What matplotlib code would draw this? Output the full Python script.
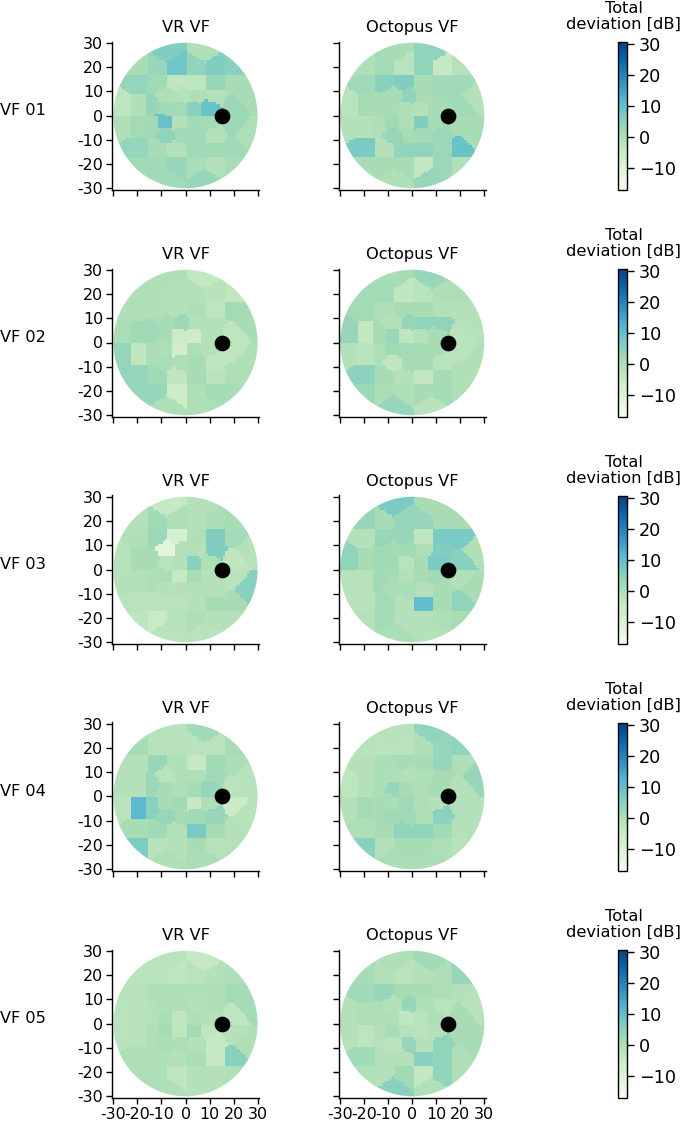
import numpy as np
import matplotlib
matplotlib.use("Agg")
import matplotlib.pyplot as plt
from matplotlib.patches import Circle
from matplotlib.cm import ScalarMappable
from matplotlib.colors import Normalize

# test locations of the visual field, degrees
loc_x = [-8, 8,
         -20, -12, -4, 4, 12, 20,
         -20, -12, -4, 4, 12, 20,
         -8, -2, 4, 12, 26,
         -26, -20, -14, -8, -3, 3, 10, 20,
         -26, -20, -14, -9, -3, 3, 10, 20,
         -8, -2, 4, 12, 26,
         -20, -12, -4, 4, 12, 20,
         -20, -12, -4, 4, 12, 20,
         -8, 8]
loc_y = [26, 26,
         20, 20, 20, 20, 20, 20,
         14, 14, 14, 14, 14, 14,
         8, 8, 8, 8, 8,
         4, 4, 4, 3, 3, 3, 3, 3,
         -4, -4, -4, -3, -3, -3, -3, -3,
         -8, -8, -8, -8, -8,
         -14, -14, -14, -14, -14, -14,
         -20, -20, -20, -20, -20, -20,
         -26, -26]

# total deviation [dB], same order as the locations
vr_01 = [6, 0,
         1, 3, 8.5, 4, 6, 5,
         3.5, 2, -3, -2.5, 3, 1,
         0, -1, 0, -1, 1,
         -2.5, -0.5, 3, 2, 1.5, 5, 9, 2.5,
         0, 1.5, 2, 9, -1, 2, 1.5, 2.5,
         4, 2, 2, -1, 0,
         3.5, 1, -1, 2, 2, 2,
         2, 2, 3, 0.5, -1, 1,
         2, 3]
oct_01 = [1, 4,
          0, 1.5, -2, 4, -4, -1,
          2, 5, 6, 1, 2, 2,
          1, 4, 1, 1.5, -1,
          -2, 1, 1, 1, 0, -1, 1, 2,
          -1, -1, 0, 2, 0, 6, 1, 1,
          3, 1, 2, 2.5, 1,
          7, -1, 4, 4, 2.5, 9,
          1, 1, 1, -3.5, 2.5, -0.5,
          0, 3]
vr_02 = [-0.5, -3.5,
         0, -0.5, -1, -1, -1.5, -3,
         0, -0.5, -1, -0.5, -2.5, 1.5,
         1, 2.5, -1, -1, 1,
         0.5, 2, 2, 1, -5, -6, -1, -2.5,
         3.5, -3, 0.5, 0, -7, 0, -1, -2.5,
         0.5, 0, 1, -3, 0,
         3.5, 2, -3, 1, -2, 0,
         3, 3, -6, 0, 1.5, 1,
         0, 0]
oct_02 = [1, 3,
          1.5, 1.5, -3, -2, 0, 0,
          1.5, 0, 1, 1, -1, -1,
          -1, 3, 4, 4, -1,
          3, -3.5, 1, 3, -3, -1, 1, -2,
          -1, -2, 0, 2, 1.5, 1, 1, -2,
          -3, 1, 1, -2, -0.5,
          4.5, 1, -1, -3.5, 1, -0.5,
          2.5, 0.5, 0, 1, 1.5, 0,
          3, -1.5]
vr_03 = [-4, -1,
         -1, 2, 0, -1, 0.5, 1,
         -0.5, 2.5, -8, -0.5, 6, 1.5,
         -12, -1, -1, 6, -1,
         -1.5, 1, 1, -2, -1, 5, 0, -3,
         -1, -1, 0, 0.5, -4, 1, -1, -2,
         -1, -1, -1, -1, 5,
         -2, -2, -2, -1, 1, 1,
         -2.5, -4.5, -1.5, 0, -1, -1,
         -2, -2]
oct_03 = [7, 1,
          3, 1, 3.5, 3, 1, 1,
          -1, 3, 3, -3, 7, 7,
          1.5, 2, 0, 6, -0.5,
          4, 1, 2, 2, -2, 1, 7, 5,
          -1.5, -1.5, 2, 1, -1, 1, 2, -0.5,
          0.5, 0.5, -1, 1, 1,
          -1.5, 1.5, -1, 10, 1, 4,
          -1, 1.5, -1, -1, 0, 1,
          0.5, -1]
vr_04 = [-1.5, 2,
         1, -1.5, -1.5, -2, -2, 1,
         -1, 3, -0.5, -4, 2, 0.5,
         -2, 0, 0, 2, -1.5,
         -1, -1, 2.5, 1, 0, 1, 3, -2,
         -2, 11, 5, 1, 2, -4, 0, -5,
         3, 1.5, 2, 3, -1.5,
         1, 2, -1, 7, 1, -1,
         6.5, -1.5, -1, 1, -1.5, -1,
         0, 0.5]
oct_04 = [-1.5, 4,
          -1.5, -2, -2, 0, 3, 4,
          -1, 0.5, 1, 1, 3, 0,
          0, -1, 0, 1, 3,
          -2.5, -1, 0.5, 3, 1, 0, 1, -1,
          -1, 1.5, 1, 0.5, 2, 0, -1, -1,
          2, 2, 0, 4.5, -1,
          0, 1, 4, 4, 2, -1,
          5, -1, 1, 1, 0, -1.5,
          0.5, 0.5]
vr_05 = [-2, -4,
         -2, -2, -3, -2, -1, 0,
         -1.5, -0.5, -0.5, -0.5, 0, 1.5,
         0, 0, -1, -0.5, 1.5,
         -2, -1.5, -1, 0.5, -3, 0, -1, -3,
         -2, -1.5, -0.5, 1, -2.5, 1.5, -3, -1,
         0.5, 0, -1, -4, 0,
         0, 0, -1, 0.5, -4, 5,
         0, 0, -3, -1, -1, -0.5,
         -0.5, -1]
oct_05 = [0, 2,
          1, -1, -2, -1, 0, 3,
          2, 3, 1, 1, 0, -1,
          -1, 3, -0.5, -2, -1.5,
          -1, 0, 0, 0, -3, -2, 0, 1,
          -1, -2.5, -1, 1, -1, -2, -1, 1,
          -2, 3, -1, 4, 1,
          2, -1, -1, 5, 4, 0,
          -0.5, -1, 2, -3.5, 4, 0,
          5, -0.5]

row_names = ["VF 01", "VF 02", "VF 03", "VF 04", "VF 05"]
vr_rows = [vr_01, vr_02, vr_03, vr_04, vr_05]
oct_rows = [oct_01, oct_02, oct_03, oct_04, oct_05]
tick_vals = [-30, -20, -10, 0, 10, 20, 30]
tick_labels = ["-30", "-20", "-10", "0", "10", "20", "30"]
cbar_ticks = [-10, 0, 10, 20, 30]

W, H = 683, 1121
vmin, vmax = -16.8, 30.5
norm = Normalize(vmin, vmax)

# nearest test location for every degree
grid = np.arange(-30, 31)
gx, gy = np.meshgrid(grid, grid)
dist = (gx[..., None] - np.array(loc_x)) ** 2 + (gy[..., None] - np.array(loc_y)) ** 2
nearest = dist.argmin(axis=2)


def px_axes(x0, y0, x1, y1):
    return fig.add_axes([x0 / W, 1 - y1 / H, (x1 - x0) / W, (y1 - y0) / H])


def draw_field(ax, values, title, labels_x, labels_y):
    img = ax.imshow(np.array(values)[nearest], origin="lower", cmap="GnBu", norm=norm,
                    extent=(-30.5, 30.5, -30.5, 30.5), interpolation="nearest", aspect="auto")
    img.set_clip_path(Circle((0, 0), 30, transform=ax.transData))
    ax.scatter([15], [0], s=106, color="black", zorder=3)
    ax.set_xlim(-30.5, 30.5)
    ax.set_ylim(-30.5, 30.5)
    ax.set_title(title, fontsize=11.7, pad=7)
    ax.spines["top"].set_visible(False)
    ax.spines["right"].set_visible(False)
    ax.spines["left"].set_linewidth(1.0)
    ax.spines["bottom"].set_linewidth(1.0)
    ax.set_xticks(tick_vals)
    ax.set_yticks(tick_vals)
    ax.set_xticklabels(tick_labels if labels_x else [])
    ax.set_yticklabels(tick_labels if labels_y else [])
    ax.tick_params(labelsize=11.4, length=4, width=1.0, pad=2.5)


fig = plt.figure(figsize=(W / 100, H / 100), dpi=100)

for i in range(5):
    top = 41.5 + 227 * i
    bottom = top + 148
    last = i == 4
    draw_field(px_axes(112.2, top, 258.8, bottom), vr_rows[i], "VR VF", last, True)
    draw_field(px_axes(338.9, top, 485.5, bottom), oct_rows[i], "Octopus VF", last, False)
    fig.text(0, 1 - (top + 69) / H, row_names[i], fontsize=11.6, va="center", ha="left")

    cax = px_axes(618, top + 0.5, 627, bottom)
    cb = fig.colorbar(ScalarMappable(norm=norm, cmap="GnBu"), cax=cax)
    cb.set_ticks(cbar_ticks)
    cb.ax.tick_params(labelsize=12.7, length=5, width=1.0, pad=3.5)
    cb.outline.set_linewidth(1.0)
    fig.text(623.5 / W, 1 - (top - 9.5) / H, "Total\ndeviation [dB]", fontsize=11.7,
             ha="center", va="bottom", linespacing=1.1)

fig.savefig("out.png", dpi=100)
